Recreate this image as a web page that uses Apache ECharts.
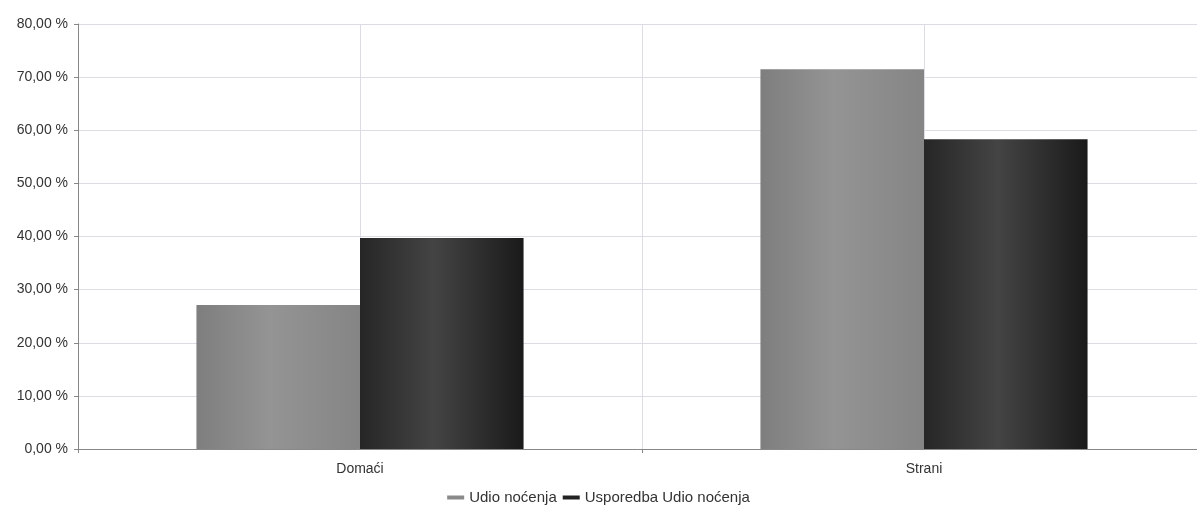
<!DOCTYPE html>
<html>
<head>
<meta charset="utf-8">
<script src="https://cdn.jsdelivr.net/npm/echarts@6/dist/echarts.min.js"></script>
<style>html,body{margin:0;padding:0;background:#fff}#c{width:1197px;height:511px}</style>
</head>
<body>
<div id="c"></div>
<script>
const categories = ['Domaći', 'Strani'];
const seriesNames = ['Udio noćenja', 'Usporedba Udio noćenja'];
const udio = [27.1, 71.5];
const usporedba = [39.7, 58.3];

function grad(edge, mid, edge2) {
  return new echarts.graphic.LinearGradient(0, 0, 1, 0, [
    {offset: 0, color: edge}, {offset: 0.45, color: mid}, {offset: 1, color: edge2}
  ]);
}
const F = 'Liberation Sans, Arial, sans-serif';
const chart = echarts.init(document.getElementById('c'));
chart.setOption({
  animation: false,
  backgroundColor: '#fff',
  grid: {left: 78, top: 24, height: 425, width: 1128, containLabel: false, outerBoundsMode: 'none'},
  legend: {
    bottom: 1, left: 'center', icon: 'rect', itemWidth: 17, itemHeight: 4, itemGap: 6,
    textStyle: {fontFamily: F, fontSize: 15, color: '#333'},
    data: [{name: seriesNames[0], itemStyle: {color: '#8a8a8a'}}, {name: seriesNames[1], itemStyle: {color: '#222'}}]
  },
  xAxis: [{
    type: 'category', data: categories,
    axisLine: {lineStyle: {color: '#888'}},
    axisTick: {show: true, length: 4, lineStyle: {color: '#888'}},
    axisLabel: {fontFamily: F, fontSize: 14, color: '#333', margin: 13},
    splitLine: {show: false}
  }, {
    type: 'value', min: 0, max: 4, interval: 1, show: true, position: 'bottom',
    axisLine: {show: false}, axisTick: {show: false}, axisLabel: {show: false},
    splitLine: {show: true, lineStyle: {color: '#dcdce4', width: 1}}
  }],
  yAxis: {
    type: 'value', min: 0, max: 80, interval: 10,
    axisLine: {show: true, lineStyle: {color: '#888'}},
    axisTick: {show: true, length: 4, lineStyle: {color: '#888'}},
    axisLabel: {fontFamily: F, fontSize: 14, color: '#333', margin: 10,
      formatter: v => v.toFixed(2).replace('.', ',') + ' %'},
    splitLine: {lineStyle: {color: '#dcdce4', width: 1}}
  },
  series: [{
    name: seriesNames[0], type: 'bar', data: udio, xAxisIndex: 0,
    barGap: '0%', barCategoryGap: '42%',
    itemStyle: {color: grad('#7e7e7e', '#949494', '#858585')}
  }, {
    name: seriesNames[1], type: 'bar', data: usporedba, xAxisIndex: 0,
    itemStyle: {color: grad('#262626', '#444444', '#1a1a1a')}
  }]
});
</script>
</body>
</html>
